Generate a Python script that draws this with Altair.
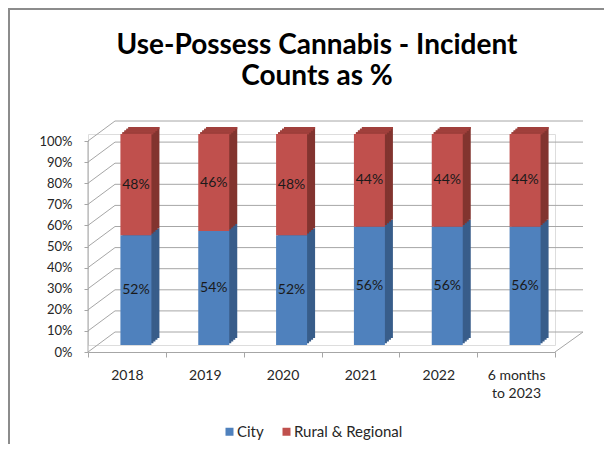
import altair as alt
import pandas as pd

categories = ["2018", "2019", "2020", "2021", "2022", "6 months to 2023"]
city = [52, 54, 52, 56, 56, 56]
rural = [48, 46, 48, 44, 44, 44]
series = ["City", "Rural & Regional"]
y_ticks = [0, 0.1, 0.2, 0.3, 0.4, 0.5, 0.6, 0.7, 0.8, 0.9, 1.0]
title_lines = ["Use-Possess Cannabis - Incident", "Counts as %"]

front_colors = ["#4F81BD", "#C0504D"]
side_colors = ["#385D8A", "#82342F"]
top_color = "#A1403C"
grid_color = "#A6A6A6"
FONT = "Lato"

rows = []
for c, a, b in zip(categories, city, rural):
    rows.append({"category": c, "series": series[0], "y0": 0.0, "y1": a / 100, "label": f"{a}%"})
    rows.append({"category": c, "series": series[1], "y0": a / 100, "y1": (a + b) / 100, "label": f"{b}%"})
df = pd.DataFrame(rows)
df["mid"] = (df["y0"] + df["y1"]) / 2

ticks_df = pd.DataFrame({"tick": y_ticks})
one = pd.DataFrame({"v0": [0.0], "v1": [1.0]})

yscale = alt.Scale(domain=[0, 1], nice=False, zero=True)
xscale = alt.Scale(domain=categories, paddingInner=0, paddingOuter=0)

W, H = 467, 211
BAR = 31
XO = 9
steps = [1, 2, 3, 4]
DX, DY = 2.0, -1.75

x_axis = alt.Axis(
    title=None, labelAngle=0, tickBand="extent", offset=7, domainColor=grid_color,
    tickColor=grid_color, tickSize=5, labelPadding=11, labelFont=FONT, labelFontSize=14,
    labelColor="#262626", labelLineHeight=18, grid=False,
    labelExpr="datum.label == '6 months to 2023' ? ['6 months', 'to 2023'] : datum.label",
)
y_axis = alt.Axis(
    title=None, values=y_ticks, format=".0%", domain=False, grid=False, tickSize=4,
    tickColor=grid_color, tickOffset=7, labelPadding=12, labelFont=FONT, labelFontSize=13,
    labelColor="#262626",
)

def X():
    return alt.X("category:N", sort=categories, scale=xscale, axis=x_axis)

def Y(field):
    return alt.Y(field, scale=yscale, axis=y_axis)

border = alt.Chart(one).mark_rect(fillOpacity=0, stroke="#8C8C8C", strokeWidth=2).encode(
    x=alt.value(-79), x2=alt.value(600), y=alt.value(-125), y2=alt.value(400)
)

back_grid = alt.Chart(ticks_df).mark_rule(color=grid_color, strokeWidth=1, yOffset=-13).encode(
    y=Y("tick:Q"), x=alt.value(27), x2=alt.value(495)
)
diag = alt.Chart(ticks_df).mark_rule(color=grid_color, strokeWidth=1, yOffset=7, y2Offset=-13).encode(
    y=Y("tick:Q"), y2="tick:Q", x=alt.value(0), x2=alt.value(27)
)
floor_edge = alt.Chart(one).mark_rule(color=grid_color, strokeWidth=1, yOffset=7, y2Offset=-13).encode(
    y=Y("v0:Q"), y2="v0:Q", x=alt.value(W), x2=alt.value(495)
)
front_axis = alt.Chart(one).mark_rule(color=grid_color, strokeWidth=1, yOffset=7, y2Offset=7).encode(
    y=Y("v0:Q"), y2="v1:Q", x=alt.value(0)
)

base = alt.Chart(df)

sides = []
for k in reversed(steps):
    for s, col in zip(series, side_colors):
        sides.append(
            base.transform_filter(alt.datum.series == s)
            .mark_bar(size=BAR, xOffset=XO + DX * k, yOffset=DY * k, y2Offset=DY * k, color=col)
            .encode(x=X(), y=Y("y1:Q"), y2="y0:Q")
        )

tops = []
for k in reversed(steps):
    tops.append(
        base.transform_filter(alt.datum.series == series[1])
        .mark_bar(size=BAR, xOffset=XO + DX * k, yOffset=DY * k, y2Offset=DY * k + 2.2, color=top_color)
        .encode(x=X(), y=Y("y1:Q"), y2="y1:Q")
    )

front = base.mark_bar(size=BAR, xOffset=XO).encode(
    x=X(),
    y=Y("y1:Q"),
    y2="y0:Q",
    color=alt.Color(
        "series:N",
        scale=alt.Scale(domain=series, range=front_colors),
        legend=alt.Legend(
            orient="none", legendX=134, legendY=290, direction="horizontal", title=None,
            symbolType="square", symbolSize=64, symbolStrokeWidth=0, labelFont=FONT,
            labelFontSize=15, labelColor="#262626", labelOffset=0, columnPadding=15,
        ),
    ),
)

labels = base.mark_text(xOffset=XO, font=FONT, fontSize=14, color="#1A1A1A").encode(
    x=X(), y=Y("mid:Q"), text="label:N"
)

t1 = alt.Chart(pd.DataFrame({"t": [title_lines[0]]})).mark_text(
    font=FONT, fontSize=28, fontWeight="bold", color="#000000", baseline="middle"
).encode(text="t:N", x=alt.value(229), y=alt.value(-88))
t2 = alt.Chart(pd.DataFrame({"t": [title_lines[1]]})).mark_text(
    font=FONT, fontSize=28, fontWeight="bold", color="#000000", baseline="middle"
).encode(text="t:N", x=alt.value(229), y=alt.value(-57))

chart = alt.layer(
    border, back_grid, diag, floor_edge, front_axis, *sides, *tops, front, labels, t1, t2
).properties(
    width=W, height=H,
    autosize=alt.AutoSizeParams(type="none"),
    padding={"left": 80, "top": 126, "right": 49, "bottom": 99},
).configure_view(stroke=None).configure(background="white")

chart.save("out.html", embed_options={"renderer": "svg", "actions": False})
